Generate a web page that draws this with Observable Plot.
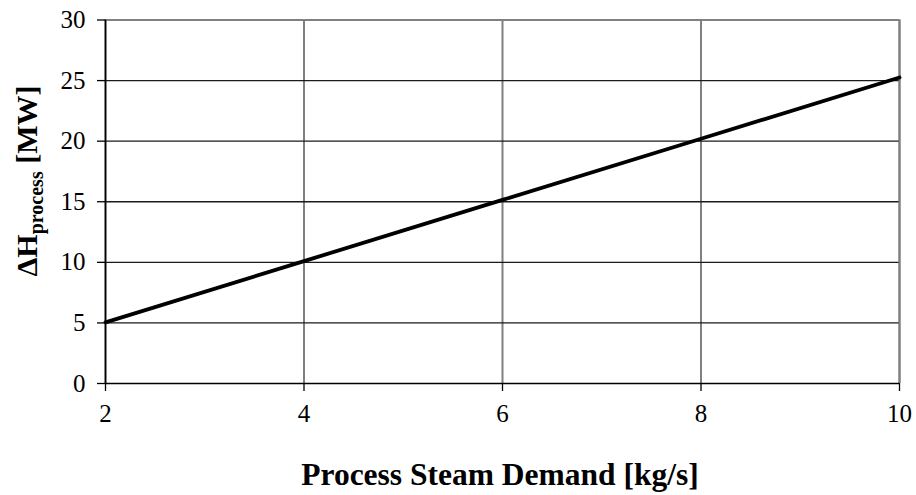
<!DOCTYPE html>
<html>
<head>
<meta charset="utf-8">
<script src="https://cdn.jsdelivr.net/npm/d3@7"></script>
<script src="https://cdn.jsdelivr.net/npm/@observablehq/plot@0.6"></script>
<style>
  html, body { margin: 0; padding: 0; background: #fff; }
</style>
</head>
<body>
<div id="chart"></div>
<script>
// Process steam demand (kg/s) vs. process enthalpy change (MW)
const steamDemand = [2, 4, 6, 8, 10];
const deltaH = [5.05, 10.1, 15.15, 20.2, 25.25];
const xTicks = [2, 4, 6, 8, 10];
const yTicks = [0, 5, 10, 15, 20, 25, 30];
const xTitle = "Process Steam Demand [kg/s]";

const data = steamDemand.map((x, i) => ({x, y: deltaH[i]}));

const font = "Liberation Serif";

const chart = Plot.plot({
  width: 916,
  height: 495,
  marginLeft: 105,
  marginRight: 17,
  marginTop: 19.5,
  marginBottom: 112,
  style: {fontFamily: font, fontSize: "25px", color: "#000", background: "#fff", overflow: "visible"},
  x: {domain: [2, 10]},
  y: {domain: [0, 30]},
  marks: [
    Plot.gridX(xTicks, {stroke: "#808080", strokeOpacity: 1, strokeWidth: 2}),
    Plot.gridY(yTicks.filter(d => d > 0 && d < 30), {stroke: "#1a1a1a", strokeOpacity: 1, strokeWidth: 1.3}),
    Plot.ruleY([30], {stroke: "#808080", strokeWidth: 2}),
    Plot.ruleX([10], {stroke: "#808080", strokeWidth: 2}),
    Plot.ruleX([2], {stroke: "#000", strokeWidth: 1.6}),
    Plot.ruleY([0], {stroke: "#000", strokeWidth: 1.6}),
    Plot.axisX(xTicks, {tickSize: 8, tickPadding: 13, label: null, fontSize: 25, strokeWidth: 1.3}),
    Plot.axisY(yTicks, {tickSize: 8, tickPadding: 12, label: null, fontSize: 25, strokeWidth: 1.3}),
    Plot.line(data, {x: "x", y: "y", stroke: "#000", strokeWidth: 3.8})
  ]
});

const svg = d3.select(chart);

// Serif tick labels throughout
svg.selectAll("text")
  .style("font-family", font)
  .style("font-variant", "normal");

// Horizontal axis title
svg.append("text")
  .attr("x", 500)
  .attr("y", 485)
  .attr("text-anchor", "middle")
  .style("font-family", font)
  .attr("font-weight", "bold")
  .attr("font-size", 31.5)
  .attr("fill", "#000")
  .text(xTitle);

// Vertical axis title with subscript
const yt = svg.append("text")
  .attr("transform", "translate(37,181) rotate(-90)")
  .attr("text-anchor", "middle")
  .style("font-family", font)
  .attr("font-weight", "bold")
  .attr("font-size", 30)
  .attr("fill", "#000");
yt.append("tspan").text("ΔH");
yt.append("tspan").attr("font-size", 20).attr("dy", 6).text("process");
yt.append("tspan").attr("dy", -6).text(" [MW]");

document.getElementById("chart").appendChild(chart);
</script>
</body>
</html>
